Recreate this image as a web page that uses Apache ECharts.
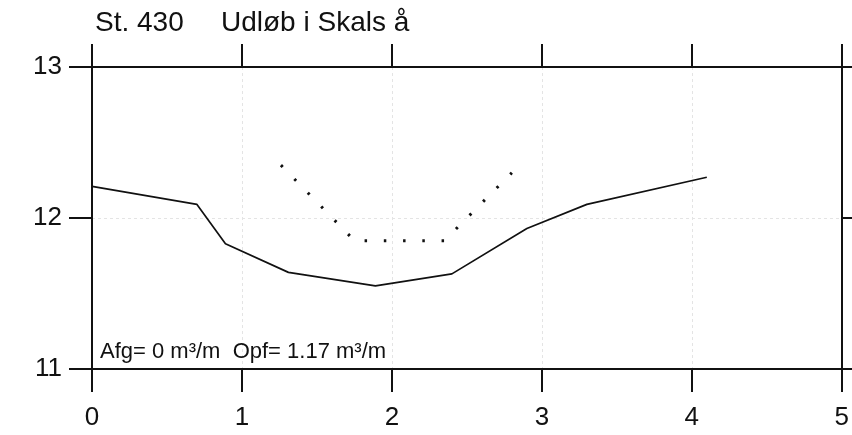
<!DOCTYPE html>
<html>
<head>
<meta charset="utf-8">
<script src="https://cdn.jsdelivr.net/npm/echarts@6/dist/echarts.min.js"></script>
<style>
html,body{margin:0;padding:0;background:#fff;}
#chart{width:852px;height:435px;}
</style>
</head>
<body>
<div id="chart"></div>
<script>
// Data
var titleStation = 'St. 430';
var titleName = 'Udløb i Skals å';
var annotation = 'Afg= 0 m³/m  Opf= 1.17 m³/m';
var xTicks = [0, 1, 2, 3, 4, 5];
var yTicks = [11, 12, 13];
var groundX = [0, 0.70, 0.89, 1.31, 1.89, 2.40, 2.90, 3.30, 4.10];
var groundY = [12.21, 12.09, 11.83, 11.64, 11.55, 11.63, 11.93, 12.09, 12.27];
var designX = [1.26, 1.75, 2.35, 2.80];
var designY = [12.35, 11.85, 11.85, 12.30];

function pairs(xs, ys) { return xs.map(function (x, i) { return [x, ys[i]]; }); }

var FONT = "'Liberation Sans', Arial, Helvetica, sans-serif";
var INK = '#111';
var chart = echarts.init(document.getElementById('chart'), null, {renderer: 'canvas'});

var axisLine = {show: true, onZero: false, lineStyle: {color: INK, width: 2}};
var tickOut = {show: true, inside: false, length: 23, lineStyle: {color: INK, width: 2}};
var grid = {show: true, lineStyle: {color: '#e4e4e4', width: 1, type: [3, 3]}};

chart.setOption({
  backgroundColor: '#fff',
  animation: false,
  title: [
    {text: titleStation, left: 90, top: 4, textStyle: {fontFamily: FONT, fontSize: 28, fontWeight: 'normal', color: INK}},
    {text: titleName, left: 216, top: 4, textStyle: {fontFamily: FONT, fontSize: 28, fontWeight: 'normal', color: INK}},
    {text: annotation, left: 95, top: 336, textStyle: {fontFamily: FONT, fontSize: 22, fontWeight: 'normal', color: INK}}
  ],
  grid: {left: 92, right: 6, top: 67, bottom: 66, containLabel: false},
  xAxis: [
    {type: 'value', position: 'bottom', min: xTicks[0], max: xTicks[xTicks.length - 1], interval: 1,
     axisLine: axisLine, axisTick: tickOut, splitLine: grid,
     axisLabel: {show: true, margin: 36, fontFamily: FONT, fontSize: 26, color: INK}},
    {type: 'value', position: 'top', min: xTicks[0], max: xTicks[xTicks.length - 1], interval: 1,
     axisLine: axisLine, axisTick: tickOut, splitLine: {show: false}, axisLabel: {show: false}}
  ],
  yAxis: [
    {type: 'value', position: 'left', min: yTicks[0], max: yTicks[yTicks.length - 1], interval: 1,
     axisLine: axisLine, axisTick: tickOut, splitLine: grid,
     axisLabel: {show: true, margin: 30, fontFamily: FONT, fontSize: 26, color: INK}},
    {type: 'value', position: 'right', min: yTicks[0], max: yTicks[yTicks.length - 1], interval: 1,
     axisLine: axisLine, axisTick: tickOut, splitLine: {show: false}, axisLabel: {show: false}}
  ],
  series: [
    {type: 'line', name: 'Terræn', data: pairs(groundX, groundY), xAxisIndex: 0, yAxisIndex: 0,
     symbol: 'none', lineStyle: {color: INK, width: 1.7}, z: 5},
    {type: 'line', name: 'Profil', data: pairs(designX, designY), xAxisIndex: 0, yAxisIndex: 0,
     symbol: 'none', lineStyle: {color: INK, width: 3, type: [2.5, 16.75]}, z: 5}
  ]
});
</script>
</body>
</html>
